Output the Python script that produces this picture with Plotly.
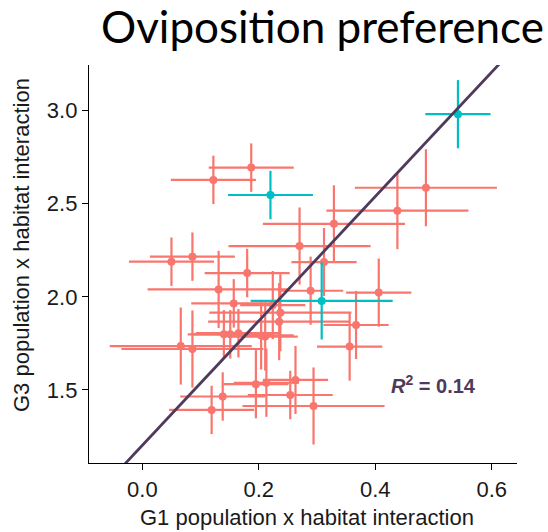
import plotly.graph_objects as go

# ---- data ----
g1_red = [0.122, 0.187, 0.487, 0.438, 0.329, 0.270, 0.312, 0.050, 0.086, 0.180,
          0.131, 0.289, 0.406, 0.157, 0.224, 0.237, 0.235, 0.367, 0.140, 0.151,
          0.165, 0.204, 0.211, 0.066, 0.086, 0.356, 0.195, 0.213, 0.263, 0.138,
          0.254, 0.119, 0.294]
g3_red = [2.628, 2.694, 2.586, 2.463, 2.392, 2.273, 2.187, 2.189, 2.216, 2.128,
          2.040, 2.033, 2.023, 1.965, 1.956, 1.915, 1.867, 1.849, 1.799, 1.799,
          1.805, 1.793, 1.787, 1.736, 1.720, 1.733, 1.531, 1.539, 1.554, 1.465,
          1.473, 1.393, 1.414]
g1_err_red = [0.073, 0.073, 0.122, 0.122, 0.122, 0.122, 0.056, 0.073, 0.073, 0.073,
              0.122, 0.056, 0.056, 0.073, 0.056, 0.122, 0.122, 0.056, 0.056, 0.073,
              0.073, 0.056, 0.056, 0.122, 0.122, 0.056, 0.056, 0.056, 0.056, 0.073,
              0.073, 0.073, 0.122]
g3_err_red = [0.130, 0.130, 0.207, 0.207, 0.207, 0.207, 0.183, 0.130, 0.130, 0.130,
              0.207, 0.183, 0.183, 0.130, 0.183, 0.207, 0.207, 0.183, 0.130, 0.130,
              0.130, 0.183, 0.183, 0.207, 0.207, 0.183, 0.183, 0.183, 0.183, 0.130,
              0.130, 0.130, 0.207]

g1_cyan = [0.220, 0.542, 0.308]
g3_cyan = [2.547, 2.981, 1.978]
g1_err_cyan = [0.073, 0.056, 0.122]
g3_err_cyan = [0.130, 0.183, 0.207]

line_slope = 3.34
line_intercept = 1.203
line_x = [-0.2, 0.8]
r2_value = 0.14

x_ticks = [0.0, 0.2, 0.4, 0.6]
x_tick_labels = ["0.0", "0.2", "0.4", "0.6"]
y_ticks = [1.5, 2.0, 2.5, 3.0]
y_tick_labels = ["1.5", "2.0", "2.5", "3.0"]

RED = "#F8766D"
CYAN = "#00BFC4"
LINE = "#4E3A5C"
FONT = "Liberation Sans, Arial, Helvetica, sans-serif"

fig = go.Figure()

for xs, ys, ex, ey, col in [(g1_red, g3_red, g1_err_red, g3_err_red, RED),
                            (g1_cyan, g3_cyan, g1_err_cyan, g3_err_cyan, CYAN)]:
    fig.add_trace(go.Scatter(
        x=xs, y=ys, mode="markers",
        marker=dict(color=col, size=8, line=dict(width=0)),
        error_x=dict(type="data", array=ex, visible=True, width=0, thickness=2.2, color=col),
        error_y=dict(type="data", array=ey, visible=True, width=0, thickness=2.2, color=col),
        showlegend=False, cliponaxis=True,
    ))

fig.add_trace(go.Scatter(
    x=line_x, y=[line_intercept + line_slope * v for v in line_x],
    mode="lines", line=dict(color=LINE, width=2.8), showlegend=False,
))

axis_common = dict(showgrid=False, zeroline=False, showline=True, linecolor="black",
                   linewidth=1.3, ticks="outside", ticklen=6, tickwidth=1.3,
                   tickcolor="black", automargin=False,
                   tickfont=dict(size=22, family=FONT, color="#1a1a1a"))

fig.update_layout(
    width=548, height=532,
    margin=dict(l=89, r=31, t=65, b=69),
    paper_bgcolor="white", plot_bgcolor="white",
    font=dict(family=FONT, color="#1a1a1a"),
    xaxis=dict(range=[-0.0916, 0.6434], tickvals=x_ticks, ticktext=x_tick_labels, **axis_common),
    yaxis=dict(range=[1.108, 3.245], tickvals=y_ticks, ticktext=y_tick_labels, **axis_common),
    annotations=[
        dict(text="Oviposition preference", xref="paper", yref="paper",
             x=(322 - 89) / 428, y=(463 - 26) / 398, xanchor="center", yanchor="middle",
             showarrow=False, font=dict(family="Lato, Carlito, sans-serif", size=44, color="black")),
        dict(text="G1 population x habitat interaction", xref="paper", yref="paper",
             x=(307 - 89) / 428, y=(463 - 517) / 398, xanchor="center", yanchor="middle",
             showarrow=False, font=dict(family=FONT, size=22, color="#1a1a1a")),
        dict(text="G3 population x habitat interaction", xref="paper", yref="paper",
             x=(22 - 89) / 428, y=(463 - 245) / 398, xanchor="center", yanchor="middle",
             textangle=-90, showarrow=False, font=dict(family=FONT, size=22, color="#1a1a1a")),
        dict(text="<b><i>R</i><sup>2</sup> = %.2f</b>" % r2_value, xref="paper", yref="paper",
             x=(433 - 89) / 428, y=(463 - 384) / 398, xanchor="center", yanchor="middle",
             showarrow=False, font=dict(family=FONT, size=20, color=LINE)),
    ],
)

fig.write_html("out.html", config={"displayModeBar": False},
               post_script="document.body.style.margin='0';document.body.style.overflow='hidden';")
